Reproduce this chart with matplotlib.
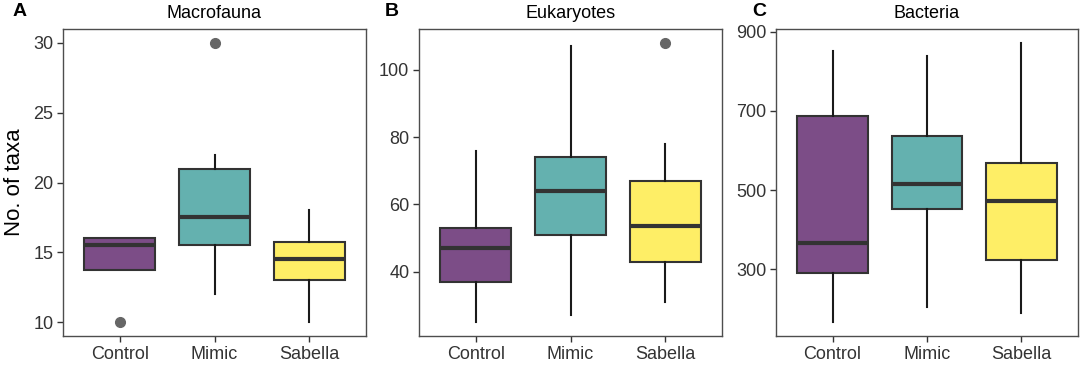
import matplotlib.pyplot as plt

plt.rcParams['font.family'] = ['Liberation Sans', 'DejaVu Sans']

groups = ['Control', 'Mimic', 'Sabella']
colors = ['#440154', '#21908C', '#FDE725']

# box stats per panel: (whislo, q1, median, q3, whishi, outliers)
macrofauna = [(13.75, 13.75, 15.5, 16, 16, [10]),
              (12, 15.5, 17.5, 21, 22, [30]),
              (10, 13, 14.5, 15.75, 18, [])]
eukaryotes = [(25, 37, 47, 53, 76, []),
              (27, 51, 64, 74, 107, []),
              (31, 43, 53.5, 67, 78, [108])]
bacteria = [(166, 290, 366, 688, 852, []),
            (205, 451, 515, 637, 840, []),
            (190, 323, 472, 569, 872, [])]

panels = [('A', 'Macrofauna', macrofauna, [10, 15, 20, 25, 30]),
          ('B', 'Eukaryotes', eukaryotes, [40, 60, 80, 100]),
          ('C', 'Bacteria', bacteria, [300, 500, 700, 900])]

fig = plt.figure(figsize=(10.84, 3.66), dpi=100)
lefts = [63, 419, 776]
rights = [366, 722, 1078]
W, H = 1084, 366
top, bottom = 29, 336

for i, (letter, title, stats, ticks) in enumerate(panels):
    ax = fig.add_axes([lefts[i] / W, (H - bottom) / H,
                       (rights[i] - lefts[i]) / W, (bottom - top) / H])
    bxp = []
    for g, s in zip(groups, stats):
        bxp.append(dict(label=g, whislo=s[0], q1=s[1], med=s[2], q3=s[3],
                        whishi=s[4], fliers=s[5]))
    b = ax.bxp(bxp, positions=[1, 2, 3], widths=0.75, patch_artist=True,
               showcaps=False,
               boxprops=dict(edgecolor='#333333', linewidth=1.5),
               whiskerprops=dict(color='#1a1a1a', linewidth=1.5),
               medianprops=dict(color='#333333', linewidth=3),
               flierprops=dict(marker='o', markerfacecolor='#666666',
                               markeredgecolor='#666666', markersize=7))
    # viridis colours at alpha 0.7 over white
    for patch, c in zip(b['boxes'], colors):
        r, g_, bl = [int(c[k:k + 2], 16) for k in (1, 3, 5)]
        patch.set_facecolor(((0.7 * r + 76.5) / 255, (0.7 * g_ + 76.5) / 255,
                             (0.7 * bl + 76.5) / 255))
    lo = min(min(s[0], *(s[5] or [s[0]])) for s in stats)
    hi = max(max(s[4], *(s[5] or [s[4]])) for s in stats)
    pad = (hi - lo) * 0.05
    ax.set_ylim(lo - pad, hi + pad)
    ax.set_xlim(0.4, 3.6)
    ax.set_yticks(ticks)
    ax.tick_params(labelsize=13, colors='#333333', length=4, width=1,
                   labelcolor='#333333', pad=3)
    for sp in ax.spines.values():
        sp.set_color('#4d4d4d')
        sp.set_linewidth(1)
    ax.set_title(title, fontsize=13, pad=8)
    fig.text([13, 385, 752][i] / W, 1 - 11 / H, letter, fontsize=14,
             fontweight='bold', va='center', ha='left')
    if i == 0:
        ax.set_ylabel('No. of taxa', fontsize=16, labelpad=6)

fig.savefig('out.png', dpi=100)
